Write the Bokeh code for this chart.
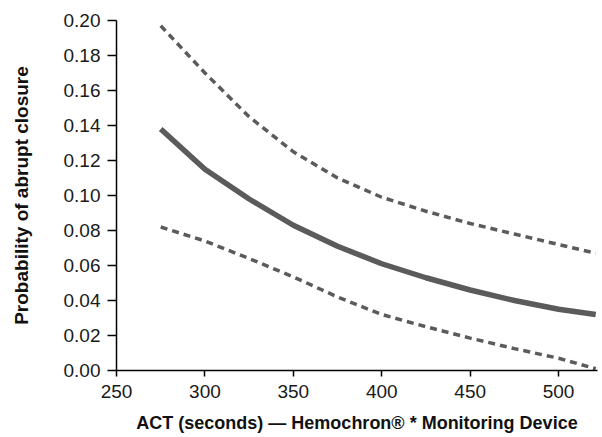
from bokeh.plotting import figure
from bokeh.models import Range1d, FixedTicker, CustomJSTickFormatter
from bokeh.embed import file_html
from bokeh.resources import INLINE

# ACT values (seconds)
act = [275, 300, 325, 350, 375, 400, 425, 450, 475, 500, 521]
# Estimated probability of abrupt closure
prob = [0.138, 0.115, 0.098, 0.083, 0.071, 0.061, 0.053, 0.046, 0.040, 0.035, 0.032]
# 95% confidence bounds
upper = [0.197, 0.170, 0.145, 0.125, 0.110, 0.099, 0.091, 0.084, 0.078, 0.072, 0.067]
lower = [0.082, 0.074, 0.064, 0.0535, 0.042, 0.032, 0.025, 0.0185, 0.0125, 0.007, 0.001]

x_ticks = [250, 300, 350, 400, 450, 500]
y_ticks = [0.00, 0.02, 0.04, 0.06, 0.08, 0.10, 0.12, 0.14, 0.16, 0.18, 0.20]

FONT = "Liberation Sans"
LINE_COLOR = "#5b5b5b"

p = figure(width=600, height=435, output_backend="svg", toolbar_location=None,
           x_range=Range1d(250, 522), y_range=Range1d(0, 0.2),
           min_border_left=116, min_border_right=3, min_border_top=20,
           min_border_bottom=62)
p.outline_line_color = None
p.xgrid.visible = False
p.ygrid.visible = False

p.line(act, upper, line_color=LINE_COLOR, line_width=3.5, line_dash="7 5")
p.line(act, lower, line_color=LINE_COLOR, line_width=3.5, line_dash="7 5")
p.line(act, prob, line_color=LINE_COLOR, line_width=5.5)

for ax in (p.xaxis[0], p.yaxis[0]):
    ax.axis_line_color = "black"
    ax.axis_line_width = 1.5
    ax.major_tick_line_color = "black"
    ax.major_tick_line_width = 1.5
    ax.major_tick_in = 0
    ax.minor_tick_line_color = None
    ax.major_label_text_font = FONT
    ax.major_label_text_font_size = "19px"
    ax.major_label_text_color = "#1a1a1a"
    ax.axis_label_text_font = FONT
    ax.axis_label_text_font_style = "bold"
    ax.axis_label_text_color = "#111111"

p.xaxis[0].ticker = FixedTicker(ticks=x_ticks)
p.yaxis[0].ticker = FixedTicker(ticks=y_ticks)
p.yaxis[0].formatter = CustomJSTickFormatter(code="return tick.toFixed(2);")

p.xaxis[0].major_tick_out = 6
p.yaxis[0].major_tick_out = 9
p.xaxis[0].major_label_standoff = 8
p.yaxis[0].major_label_standoff = 7

p.xaxis[0].axis_label = "ACT (seconds) \u2014 Hemochron\u00ae * Monitoring Device"
p.yaxis[0].axis_label = "Probability of abrupt closure"
p.xaxis[0].axis_label_text_font_size = "18px"
p.yaxis[0].axis_label_text_font_size = "19px"
p.xaxis[0].axis_label_standoff = 12
p.yaxis[0].axis_label_standoff = 29

open("out.html", "w").write(file_html(p, INLINE))
